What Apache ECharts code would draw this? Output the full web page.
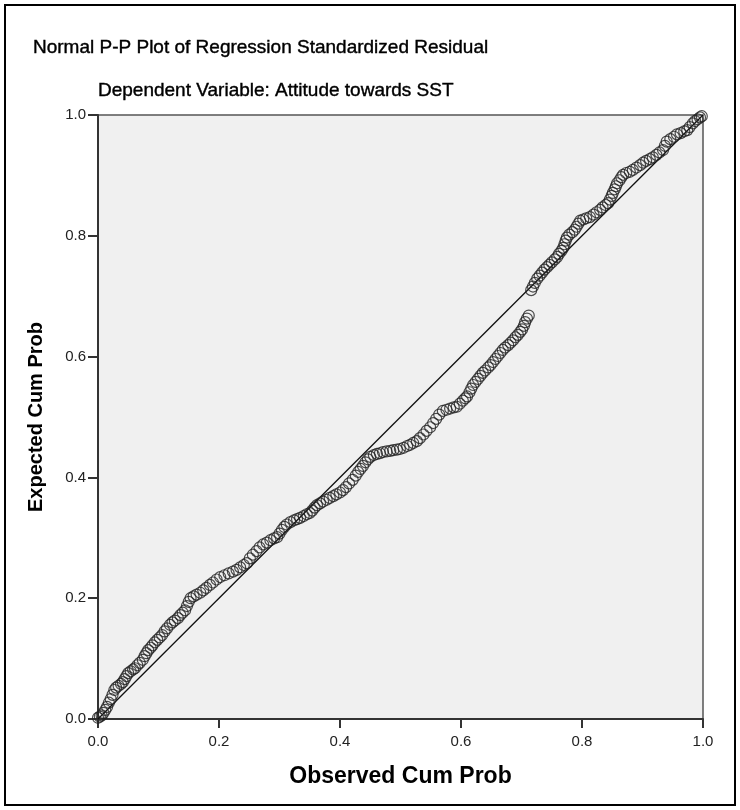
<!DOCTYPE html>
<html><head><meta charset="utf-8">
<script src="https://cdn.jsdelivr.net/npm/echarts@6/dist/echarts.min.js"></script>
<style>html,body{margin:0;padding:0;background:#fff}#c{width:740px;height:810px}</style>
</head><body><div id="c"></div>
<script>
var titleText = "Normal P-P Plot of Regression Standardized Residual";
var subtitleText = "Dependent Variable: Attitude towards SST";
var xAxisName = "Observed Cum Prob";
var yAxisName = "Expected Cum Prob";
var tickValues = [0.0, 0.2, 0.4, 0.6, 0.8, 1.0];
var observed = [0.000,0.003,0.006,0.009,0.012,0.015,0.018,0.021,0.024,0.027,0.030,0.034,0.038,0.041,0.044,0.047,0.050,0.054,0.058,0.061,0.065,0.069,0.074,0.077,0.080,0.083,0.087,0.090,0.094,0.098,0.102,0.106,0.110,0.114,0.119,0.123,0.127,0.132,0.136,0.140,0.144,0.147,0.150,0.153,0.158,0.163,0.169,0.174,0.179,0.185,0.190,0.196,0.202,0.209,0.216,0.223,0.229,0.235,0.241,0.246,0.251,0.256,0.262,0.267,0.273,0.279,0.285,0.291,0.296,0.300,0.304,0.308,0.312,0.318,0.324,0.329,0.334,0.340,0.345,0.350,0.354,0.358,0.362,0.367,0.372,0.378,0.383,0.389,0.394,0.400,0.405,0.410,0.415,0.421,0.426,0.430,0.434,0.438,0.442,0.446,0.450,0.456,0.461,0.466,0.471,0.477,0.483,0.488,0.494,0.499,0.505,0.511,0.516,0.521,0.527,0.532,0.538,0.543,0.549,0.554,0.559,0.564,0.570,0.576,0.582,0.588,0.593,0.598,0.603,0.607,0.610,0.614,0.617,0.620,0.624,0.628,0.632,0.636,0.640,0.645,0.649,0.653,0.657,0.661,0.665,0.669,0.673,0.678,0.682,0.686,0.690,0.694,0.698,0.701,0.704,0.706,0.709,0.712,0.716,0.719,0.722,0.726,0.730,0.734,0.738,0.742,0.746,0.750,0.755,0.759,0.762,0.766,0.769,0.771,0.773,0.775,0.779,0.784,0.788,0.791,0.794,0.797,0.802,0.807,0.813,0.819,0.824,0.830,0.834,0.839,0.843,0.846,0.849,0.851,0.854,0.856,0.858,0.862,0.865,0.868,0.873,0.879,0.884,0.890,0.896,0.901,0.906,0.912,0.917,0.923,0.928,0.934,0.937,0.940,0.946,0.952,0.957,0.963,0.969,0.974,0.978,0.983,0.987,0.991,0.995,0.998];
var expected = [0.002,0.004,0.006,0.010,0.015,0.020,0.027,0.033,0.040,0.048,0.052,0.055,0.058,0.061,0.066,0.071,0.076,0.079,0.082,0.084,0.089,0.093,0.098,0.104,0.109,0.114,0.118,0.122,0.127,0.131,0.135,0.139,0.145,0.150,0.156,0.160,0.163,0.167,0.172,0.176,0.180,0.187,0.194,0.200,0.203,0.206,0.209,0.213,0.217,0.222,0.226,0.231,0.235,0.238,0.241,0.244,0.247,0.251,0.255,0.258,0.266,0.272,0.278,0.284,0.289,0.292,0.296,0.299,0.301,0.307,0.313,0.318,0.322,0.326,0.329,0.331,0.333,0.336,0.339,0.341,0.345,0.350,0.354,0.357,0.360,0.363,0.366,0.369,0.372,0.375,0.379,0.384,0.390,0.396,0.403,0.409,0.414,0.419,0.425,0.430,0.434,0.437,0.439,0.440,0.442,0.443,0.444,0.445,0.446,0.447,0.449,0.452,0.454,0.457,0.460,0.465,0.471,0.477,0.483,0.490,0.497,0.504,0.510,0.512,0.514,0.516,0.517,0.522,0.527,0.531,0.534,0.541,0.547,0.553,0.558,0.563,0.568,0.573,0.577,0.582,0.586,0.591,0.596,0.601,0.606,0.611,0.615,0.619,0.623,0.627,0.632,0.636,0.641,0.645,0.651,0.657,0.663,0.668,0.710,0.716,0.722,0.729,0.734,0.739,0.744,0.748,0.752,0.756,0.761,0.765,0.770,0.775,0.780,0.786,0.792,0.797,0.802,0.806,0.810,0.815,0.820,0.825,0.827,0.829,0.831,0.835,0.839,0.843,0.847,0.851,0.854,0.860,0.866,0.871,0.877,0.882,0.887,0.892,0.897,0.901,0.904,0.906,0.909,0.913,0.917,0.921,0.924,0.927,0.930,0.934,0.938,0.942,0.949,0.956,0.960,0.964,0.968,0.970,0.973,0.975,0.980,0.986,0.990,0.993,0.996,0.998];
var refLine = [[0, 0], [1, 1]];

var pts = observed.map(function (v, i) { return [v, expected[i]]; });
var chart = echarts.init(document.getElementById('c'), null, { renderer: 'canvas' });
var font = 'Arial, "Liberation Sans", sans-serif';
chart.setOption({
  animation: false,
  backgroundColor: '#ffffff',
  title: [
    { text: titleText, left: 28, top: 33, textStyle: { fontFamily: font, fontSize: 19, fontWeight: 'normal', color: '#000', textBorderColor: '#000', textBorderWidth: 0.4 } },
    { text: subtitleText, left: 93, top: 76, textStyle: { fontFamily: font, fontSize: 19, fontWeight: 'normal', color: '#000', textBorderColor: '#000', textBorderWidth: 0.4 } }
  ],
  graphic: [
    { type: 'rect', shape: { x: 5, y: 5, width: 730, height: 800 }, style: { fill: 'none', stroke: '#000', lineWidth: 2 }, silent: true }
  ],
  grid: { left: 98, right: 37, top: 115, bottom: 91, show: true, backgroundColor: '#f0f0f0', borderColor: '#555', borderWidth: 1.5 },
  xAxis: {
    type: 'value', min: 0, max: 1, interval: 0.2,
    name: xAxisName, nameLocation: 'middle', nameGap: 46,
    nameTextStyle: { fontFamily: font, fontSize: 23, fontWeight: 'bold', color: '#000' },
    axisLine: { show: true, onZero: false, lineStyle: { color: '#333', width: 2 } },
    axisTick: { show: true, inside: false, length: 9, lineStyle: { color: '#333', width: 2 } },
    axisLabel: { fontFamily: font, fontSize: 15, color: '#222', margin: 15, formatter: function (v) { return v.toFixed(1); } },
    splitLine: { show: false }
  },
  yAxis: {
    type: 'value', min: 0, max: 1, interval: 0.2,
    name: yAxisName, nameLocation: 'middle', nameGap: 52,
    nameTextStyle: { fontFamily: font, fontSize: 20, fontWeight: 'bold', color: '#000' },
    axisLine: { show: true, onZero: false, lineStyle: { color: '#333', width: 2 } },
    axisTick: { show: true, inside: false, length: 10, lineStyle: { color: '#333', width: 2 } },
    axisLabel: { fontFamily: font, fontSize: 15, color: '#222', margin: 12, formatter: function (v) { return v.toFixed(1); } },
    splitLine: { show: false }
  },
  series: [
    { type: 'line', data: refLine, symbol: 'none', lineStyle: { color: '#111', width: 1.3 }, z: 2, silent: true },
    { type: 'scatter', data: pts, symbol: 'circle', symbolSize: 11,
      itemStyle: { color: 'rgba(0,0,0,0)', borderColor: '#222', borderWidth: 1.2 }, z: 3, silent: true }
  ]
});
</script></body></html>
